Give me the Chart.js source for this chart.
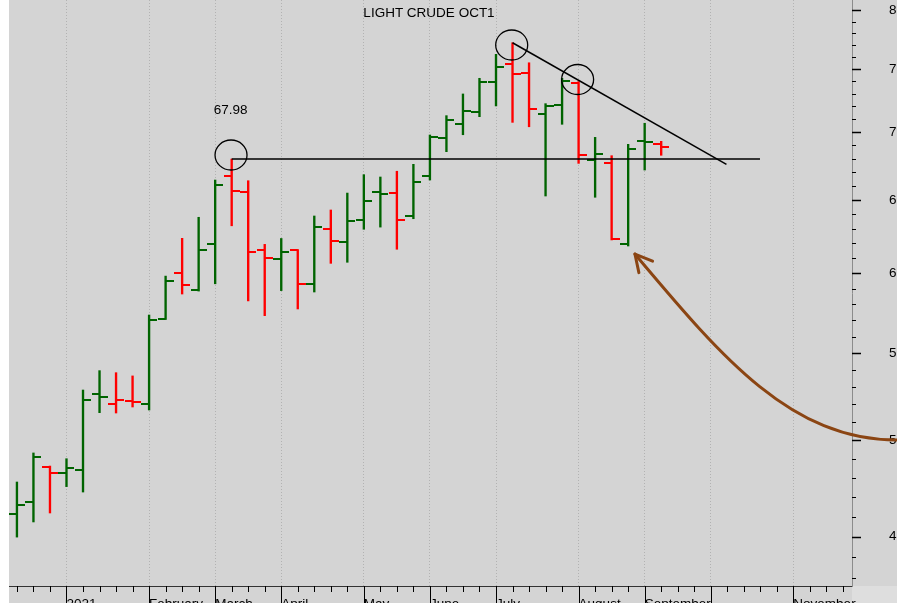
<!DOCTYPE html>
<html>
<head>
<meta charset="utf-8">
<script src="https://cdn.jsdelivr.net/npm/chart.js@4.4.0/dist/chart.umd.min.js"></script>
<style>
  html, body { margin: 0; padding: 0; overflow: hidden; background: #ffffff; }
  #wrap { position: absolute; left: 0; top: 0; width: 920px; height: 620px; }
</style>
</head>
<body>
<div id="wrap"><canvas id="chart" width="920" height="620"></canvas></div>
<script>
//Weekly bars, week 0 = Friday 1 Jan 2021
const weeks = [-3, -2, -1, 0, 1, 2, 3, 4, 5, 6, 7, 8, 9, 10, 11, 12, 13, 14, 15, 16,
  17, 18, 19, 20, 21, 22, 23, 24, 25, 26, 27, 28, 29, 30, 31, 32, 33, 34, 35, 36];
const opens = [46.14, 46.74, 48.56, 48.26, 48.40, 52.61, 52.02, 52.21, 52.02, 57.10,
  60.00, 58.90, 61.97, 66.71, 65.58, 61.55, 60.93, 61.53, 59.32, 63.00,
  62.07, 63.62, 65.55, 65.50, 63.86, 66.71, 69.54, 70.63, 71.56, 73.95,
  75.39, 74.70, 71.43, 72.11, 73.89, 67.91, 67.71, 61.97, 69.33, 69.08];
const highs = [47.77, 49.31, 48.61, 49.00, 52.82, 53.95, 53.83, 53.64, 57.33, 59.82,
  62.34, 63.79, 66.44, 67.98, 66.39, 61.93, 62.33, 61.58, 63.88, 64.30,
  65.50, 66.83, 66.66, 67.08, 67.59, 69.79, 71.28, 72.99, 74.25, 76.22,
  77.19, 75.52, 72.22, 74.25, 73.98, 69.61, 68.23, 69.08, 70.69, 69.31];
const lows = [44.98, 45.73, 46.18, 47.53, 47.25, 51.53, 51.51, 51.85, 51.68, 57.05,
  58.66, 58.85, 59.32, 63.20, 58.22, 57.29, 58.88, 57.71, 58.79, 60.66,
  60.73, 62.96, 63.11, 61.60, 63.69, 66.44, 68.53, 69.81, 71.20, 72.04,
  70.76, 70.42, 65.29, 70.61, 67.66, 65.20, 62.23, 61.82, 67.17, 68.26];
const closes = [46.60, 49.11, 48.26, 48.51, 52.25, 52.40, 52.27, 52.15, 57.02, 59.48,
  59.26, 61.53, 66.06, 65.63, 61.41, 61.01, 61.43, 59.32, 63.13, 62.14,
  63.55, 64.91, 65.41, 63.58, 66.30, 69.61, 70.92, 71.62, 73.97, 75.20,
  74.57, 71.78, 72.04, 74.03, 68.28, 68.39, 62.27, 68.73, 69.26, 68.88];

//x axis: one tick per week, month name on the first week of each month
const tickWeeks = [-3, -2, -1, 0, 1, 2, 3, 4, 5, 6, 7, 8, 9, 10, 11, 12, 13, 14, 15, 16,
  17, 18, 19, 20, 21, 22, 23, 24, 25, 26, 27, 28, 29, 30, 31, 32, 33, 34, 35, 36,
  37, 38, 39, 40, 41, 42, 43, 44, 45, 46, 47];
const monthStarts = [0, 5, 9, 13, 18, 22, 26, 31, 35, 39, 44];
const monthNames = ["2021", "February", "March", "April", "May", "June", "July",
  "August", "September", "", "November"];

//y axis (log): small tick every 1, label every 5
const priceTicks = [43, 44, 45, 46, 47, 48, 49, 50, 51, 52, 53, 54, 55, 56, 57, 58, 59, 60,
  61, 62, 63, 64, 65, 66, 67, 68, 69, 70, 71, 72, 73, 74, 75, 76, 77, 78, 79, 80];
const priceLabels = [45, 50, 55, 60, 65, 70, 75, 80];

//annotations, in [week, price]
const chartTitle = "LIGHT CRUDE OCT1";
const markWeek = 10;
const markLevel = 67.98;
const supportLine = [[10, 67.98], [41.98, 67.98]];
const trendLine = [[27, 77.19], [39.95, 67.58]];
const circleMarks = [[9.96, 68.28], [26.95, 77.0], [30.94, 74.15]];
const arrowPts = [[34.41, 61.28], [39.56, 54.88], [43.79, 50.01], [50.27, 50.01]];

const upColor = "#006400";
const downColor = "#ff0000";
const fontFamily = '"Liberation Sans", Arial, sans-serif';

//colour by close against previous close
const barColors = closes.map((c, i) => (i === 0 || c >= closes[i - 1] ? upColor : downColor));

//small canvas used as point style for open (left) / close (right) ticks
function tickImage(color, side) {
  const c = document.createElement("canvas");
  c.width = 16;
  c.height = 2;
  const g = c.getContext("2d");
  g.fillStyle = color;
  g.fillRect(side === "left" ? 0 : 8, 0, 8, 2);
  return c;
}

const decor = {
  id: "decor",
  beforeDraw(chart) {
    const { ctx, chartArea: a, width, height } = chart;
    ctx.save();
    ctx.fillStyle = "#d4d4d4";
    ctx.fillRect(0, 0, width, height);
    ctx.fillStyle = "#ffffff";
    ctx.fillRect(0, 0, a.left, height);
    ctx.fillStyle = "#dedede";
    ctx.fillRect(a.right, a.bottom, width - a.right, height - a.bottom);
    ctx.restore();
  },
  afterDraw(chart) {
    const { ctx, chartArea: a, scales: { x, y }, height } = chart;
    const px = (w) => x.getPixelForValue(w);
    const py = (p) => y.getPixelForValue(p);
    ctx.save();
    //axis tick marks
    ctx.strokeStyle = "#000";
    for (const t of y.ticks) {
      const major = priceLabels.includes(t.value);
      const yy = Math.round(py(t.value)) + 0.5;
      ctx.lineWidth = major ? 1.5 : 1;
      ctx.beginPath();
      ctx.moveTo(a.right, yy);
      ctx.lineTo(a.right + (major ? 9 : 4), yy);
      ctx.stroke();
    }
    ctx.lineWidth = 1;
    ctx.beginPath();
    for (const t of x.ticks) {
      const xx = Math.round(px(t.value)) + 0.5;
      ctx.moveTo(xx, a.bottom);
      ctx.lineTo(xx, monthStarts.includes(t.value) ? height : a.bottom + 6);
    }
    ctx.stroke();

    //title and level label
    ctx.fillStyle = "#000";
    ctx.font = "13.5px " + fontFamily;
    ctx.textAlign = "center";
    ctx.textBaseline = "alphabetic";
    ctx.fillText(chartTitle, (a.left + a.right) / 2 - 1.5, 17);
    ctx.fillText(markLevel.toFixed(2), px(markWeek) - 1, py(markLevel) - 45);

    //support and trend lines
    ctx.strokeStyle = "#000";
    ctx.lineWidth = 1.5;
    for (const ln of [supportLine, trendLine]) {
      ctx.beginPath();
      ctx.moveTo(px(ln[0][0]), py(ln[0][1]));
      ctx.lineTo(px(ln[1][0]), py(ln[1][1]));
      ctx.stroke();
    }
    //circles
    ctx.lineWidth = 1.3;
    for (const c of circleMarks) {
      ctx.beginPath();
      ctx.ellipse(px(c[0]), py(c[1]), 16, 15, 0, 0, Math.PI * 2);
      ctx.stroke();
    }

    //curved arrow
    const p = arrowPts.map((q) => [px(q[0]), py(q[1])]);
    ctx.strokeStyle = "#8b4513";
    ctx.lineWidth = 3;
    ctx.lineCap = "round";
    ctx.beginPath();
    ctx.moveTo(p[0][0], p[0][1]);
    ctx.bezierCurveTo(p[1][0], p[1][1], p[2][0], p[2][1], p[3][0], p[3][1]);
    ctx.stroke();
    const ang = Math.atan2(p[1][1] - p[0][1], p[1][0] - p[0][0]);
    ctx.beginPath();
    for (const s of [-1, 1]) {
      const b = ang + s * 0.49;
      ctx.moveTo(p[0][0], p[0][1]);
      ctx.lineTo(p[0][0] + 19 * Math.cos(b), p[0][1] + 19 * Math.sin(b));
    }
    ctx.stroke();
    ctx.restore();
  },
};

Chart.defaults.font.family = fontFamily;
Chart.defaults.font.size = 13.5;
Chart.defaults.color = "#000";

const zeroPad = (s) => {
  s.paddingLeft = 0;
  s.paddingRight = 0;
  s.paddingTop = 0;
  s.paddingBottom = 0;
};

new Chart(document.getElementById("chart"), {
  type: "bar",
  plugins: [decor],
  data: {
    datasets: [
      {
        type: "bar",
        data: weeks.map((w, i) => ({ x: w, y: [lows[i], highs[i]] })),
        backgroundColor: barColors,
        borderWidth: 0,
        barThickness: 1.7,
        grouped: false,
      },
      {
        type: "scatter",
        data: weeks.map((w, i) => ({ x: w, y: opens[i] })),
        pointStyle: barColors.map((c) => tickImage(c, "left")),
        pointRadius: 1,
        pointHoverRadius: 1,
      },
      {
        type: "scatter",
        data: weeks.map((w, i) => ({ x: w, y: closes[i] })),
        pointStyle: barColors.map((c) => tickImage(c, "right")),
        pointRadius: 1,
        pointHoverRadius: 1,
      },
    ],
  },
  options: {
    responsive: false,
    animation: false,
    events: [],
    layout: { autoPadding: false, padding: { left: 9, top: 0, right: 0, bottom: 0 } },
    plugins: {
      legend: { display: false },
      tooltip: { enabled: false },
    },
    scales: {
      x: {
        type: "linear",
        min: -3.48,
        max: 47.55,
        bounds: "data",
        offset: false,
        afterBuildTicks: (s) => {
          s.ticks = tickWeeks.map((v) => ({ value: v }));
        },
        afterFit: (s) => {
          s.height = 34;
          zeroPad(s);
        },
        grid: {
          offset: false,
          drawTicks: false,
          lineWidth: 1,
          color: (ctx) =>
            ctx.tick && monthStarts.includes(ctx.tick.value) ? "#b2b2b2" : "rgba(0,0,0,0)",
        },
        border: { display: true, color: "#333", width: 1, dash: [1, 2] },
        ticks: {
          autoSkip: false,
          maxRotation: 0,
          minRotation: 0,
          align: "start",
          padding: 10,
          callback: (v) => {
            const i = monthStarts.indexOf(v);
            return i < 0 ? "" : monthNames[i];
          },
        },
      },
      y: {
        type: "logarithmic",
        position: "right",
        min: 42.64,
        max: 80.88,
        bounds: "data",
        afterBuildTicks: (s) => {
          s.ticks = priceTicks.map((v) => ({ value: v }));
        },
        afterFit: (s) => {
          s.width = 68;
          zeroPad(s);
        },
        grid: { display: false, drawTicks: false },
        border: { display: true, color: "#8c8c8c", width: 1 },
        ticks: {
          autoSkip: false,
          padding: 37,
          callback: (v) => (priceLabels.includes(v) ? String(v) : ""),
        },
      },
    },
  },
});
</script>
</body>
</html>
